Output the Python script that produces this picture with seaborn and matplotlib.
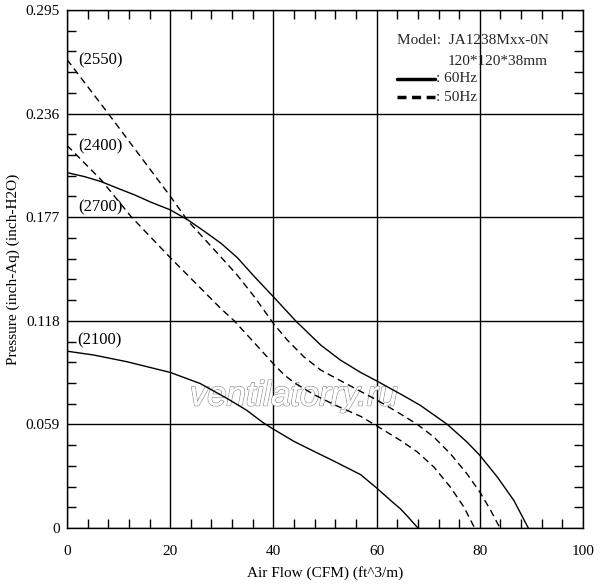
import matplotlib
matplotlib.use("Agg")
import matplotlib.pyplot as plt
import matplotlib.patheffects as pe
from matplotlib.lines import Line2D
from matplotlib.ticker import MultipleLocator
import seaborn as sns
import pandas as pd

# ---- data ----
x_2700 = [0, 3.4, 6.6, 9.8, 13.1, 16.3, 20, 23.4, 26.7, 29.9, 33.0, 36.3, 40, 44.3, 49.2, 53.0, 56.9, 60,
          65.3, 68.5, 73.7, 77.5, 80, 83.4, 86.6, 89.4]
y_2700 = [0.2024, 0.2001, 0.1973, 0.1935, 0.1897, 0.1855, 0.1812, 0.1755, 0.1688, 0.1620, 0.1540, 0.1432,
          0.1317, 0.1180, 0.1041, 0.0956, 0.0886, 0.0838, 0.0752, 0.0698, 0.0590, 0.0490, 0.0414, 0.0290,
          0.0157, 0.0]

x_2550 = [0, 8, 20, 23.4, 29.8, 33.0, 36.3, 40, 42.7, 45.9, 49.2, 51.8, 56.9, 60, 64.6, 67.9, 71.1, 74.3,
          77.5, 80, 82.1, 83.9]
y_2550 = [0.2668, 0.2360, 0.1890, 0.1750, 0.1544, 0.1440, 0.1317, 0.1165, 0.1070, 0.0975, 0.0899, 0.0858,
          0.0778, 0.0730, 0.0650, 0.0590, 0.0518, 0.0423, 0.0309, 0.0205, 0.0101, 0.0]

x_2400 = [0, 6.6, 12.4, 20, 29.8, 32.4, 36.3, 40, 42.1, 44, 47.9, 51.8, 56.9, 60, 64.6, 67.9, 71.1, 74.3,
          76.9, 79]
y_2400 = [0.2179, 0.1983, 0.1774, 0.1540, 0.1250, 0.1180, 0.1055, 0.0935, 0.0872, 0.0828, 0.0759, 0.0702,
          0.0636, 0.0582, 0.0499, 0.0433, 0.0347, 0.0233, 0.0120, 0.0]

x_2100 = [0, 5.2, 11.6, 20, 25.8, 31, 34.8, 38, 40, 44, 47.9, 51.8, 56.9, 60, 63.3, 64.6, 66, 68]
y_2100 = [0.1007, 0.0985, 0.0947, 0.0886, 0.0823, 0.0738, 0.0671, 0.0600, 0.0563, 0.0493, 0.0436, 0.0380,
          0.0304, 0.0228, 0.0142, 0.0110, 0.0066, 0.0]

speed_labels = ["(2550)", "(2400)", "(2700)", "(2100)"]
speed_label_x = [2.1, 2.1, 2.1, 2.0]
speed_label_y = [0.2665, 0.2175, 0.1828, 0.1067]

x_ticks = [0, 20, 40, 60, 80, 100]
y_ticks = [0, 0.059, 0.118, 0.177, 0.236, 0.295]
y_tick_labels = ["0", "0.059", "0.118", "0.177", "0.236", "0.295"]

curves = [("2700", "60Hz", x_2700, y_2700),
          ("2550", "50Hz", x_2550, y_2550),
          ("2400", "50Hz", x_2400, y_2400),
          ("2100", "60Hz", x_2100, y_2100)]

rows = []
for rpm, freq, xs, ys in curves:
    for xv, yv in zip(xs, ys):
        rows.append({"rpm": rpm, "freq": freq, "flow": xv, "pressure": yv})
df = pd.DataFrame(rows)

# ---- plotting ----
sns.set_theme(style="white")
plt.rcParams["font.family"] = ["Liberation Serif", "DejaVu Serif"]

fig = plt.figure(figsize=(6.0, 5.85), dpi=100)
ax = fig.add_axes([67 / 600, (585 - 528) / 585, 516 / 600, 518 / 585])

for rpm, freq, xs, ys in curves:
    sub = df[df["rpm"] == rpm]
    ls = "-" if freq == "60Hz" else (0, (5.0, 3.2))
    sns.lineplot(data=sub, x="flow", y="pressure", ax=ax, sort=False, estimator=None,
                 color="black", linewidth=1.0, linestyle=ls, legend=False)

ax.set_xlim(0, 100)
ax.set_ylim(0, 0.295)
ax.set_xticks(x_ticks)
ax.set_xticklabels([str(v) for v in x_ticks])
ax.set_yticks(y_ticks)
ax.set_yticklabels(y_tick_labels)
ax.xaxis.set_minor_locator(MultipleLocator(4))
ax.yaxis.set_minor_locator(MultipleLocator(0.0118))
ax.grid(True, which="major", color="black", linewidth=1.0)
ax.tick_params(which="major", length=0, labelsize=11, colors="black")
ax.tick_params(axis="x", which="major", pad=12)
ax.tick_params(axis="y", which="major", pad=5)
ax.tick_params(which="minor", direction="in", length=6.5, width=1.0, color="black",
               top=True, right=True, bottom=True, left=True)
for s in ax.spines.values():
    s.set_color("black")
    s.set_linewidth(1.0)

ax.set_xlabel("Air Flow (CFM) (ft^3/m)", fontsize=11, color="black", labelpad=6)
ax.set_ylabel("Pressure (inch-Aq) (inch-H2O)", fontsize=11, color="black", labelpad=4)

for t, xv, yv in zip(speed_labels, speed_label_x, speed_label_y):
    ax.text(xv, yv, t, fontsize=12, ha="left", va="center", color="black")

# legend box text
ax.text(0.640, 0.942, "Model:  JA1238Mxx-0N", transform=ax.transAxes, fontsize=11, va="center", ha="left")
ax.text(0.738, 0.900, "120*120*38mm", transform=ax.transAxes, fontsize=11, va="center", ha="left")
ax.add_line(Line2D([0.640, 0.713], [0.867, 0.867], transform=ax.transAxes, color="black", linewidth=2.5))
ax.text(0.715, 0.867, ": 60Hz", transform=ax.transAxes, fontsize=11, va="center", ha="left")
ax.add_line(Line2D([0.640, 0.713], [0.832, 0.832], transform=ax.transAxes, color="black", linewidth=2.5,
                   linestyle=(0, (2.6, 1.6))))
ax.text(0.715, 0.832, ": 50Hz", transform=ax.transAxes, fontsize=11, va="center", ha="left")

# watermark
ax.text(0.44, 0.255, "ventilatorry.ru", transform=ax.transAxes, fontsize=25, style="italic",
        family=["Liberation Sans", "DejaVu Sans"], ha="center", va="center", color="white",
        path_effects=[pe.withStroke(linewidth=1.2, foreground="#9a9a9a"), pe.Normal()], zorder=1)

fig.savefig("out.png", dpi=100, facecolor="white")
